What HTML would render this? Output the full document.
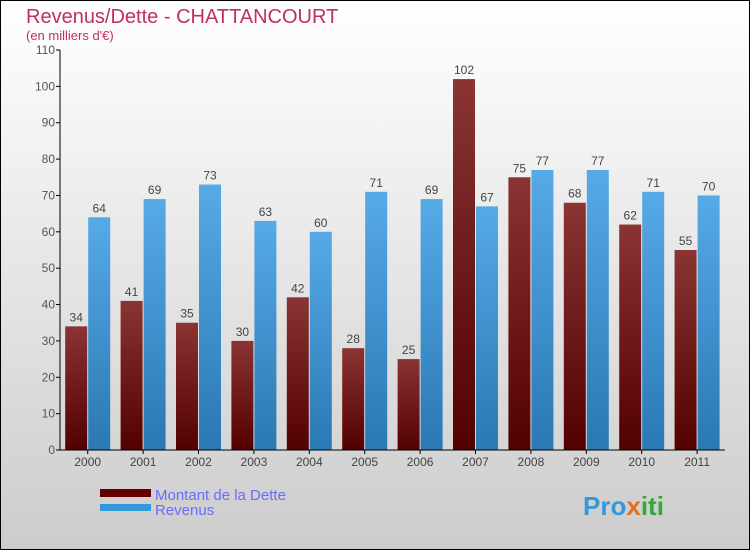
<!DOCTYPE html>
<html><head><meta charset="utf-8"><style>
body{margin:0;width:750px;height:550px;overflow:hidden}
svg{display:block;font-family:"Liberation Sans",sans-serif}
</style></head><body>
<svg id="c" width="750" height="550">
<defs>
<linearGradient id="bg" x1="0" y1="0" x2="0" y2="1"><stop offset="0" stop-color="#ffffff"/><stop offset="1" stop-color="#cccccc"/></linearGradient>
<linearGradient id="gd" x1="0" y1="0" x2="0" y2="1"><stop offset="0" stop-color="#8a3434"/><stop offset="1" stop-color="#530000"/></linearGradient>
<linearGradient id="gr" x1="0" y1="0" x2="0" y2="1"><stop offset="0" stop-color="#56aae6"/><stop offset="1" stop-color="#2a78b4"/></linearGradient>
</defs>
<rect x="0.5" y="0.5" width="749" height="549" fill="url(#bg)" stroke="#000"/>
<text x="26" y="23" font-size="20" fill="#c0305e">Revenus/Dette - CHATTANCOURT</text>
<text x="26" y="40" font-size="13" fill="#c0305e">(en milliers d'€)</text>
<g id="plot"></g>
<rect x="100" y="489" width="51" height="8" fill="#660000"/>
<text x="155" y="500" font-size="15" fill="#6a6aff">Montant de la Dette</text>
<rect x="100" y="504" width="51" height="7" fill="#3399dd"/>
<text x="155" y="515" font-size="15" fill="#6a6aff">Revenus</text>
<text x="583" y="515" font-size="26" font-weight="bold" fill="#3399dd">Pro<tspan fill="#e07020">x</tspan><tspan fill="#33aa33">iti</tspan></text>
</svg>
<script>
const years=["2000","2001","2002","2003","2004","2005","2006","2007","2008","2009","2010","2011"];
const dette=[34,41,35,30,42,28,25,102,75,68,62,55];
const revenus=[64,69,73,63,60,71,69,67,77,77,71,70];
const yTicks=[0,10,20,30,40,50,60,70,80,90,100,110];
const NS="http://www.w3.org/2000/svg";
const g=document.getElementById('plot');
const x0=60,step=55.4,y0=450,yTop=50,yMax=110;
const ys=v=>y0-(v/yMax)*(y0-yTop);
const xc=i=>x0+step*(i+0.5);
function mk(t,a){const e=document.createElementNS(NS,t);for(const k in a)e.setAttribute(k,a[k]);g.appendChild(e);return e;}
yTicks.forEach(v=>{
 const l=mk('line',{x1:x0-4,x2:x0,y1:ys(v),y2:ys(v),stroke:'#000'});
 
 
 const t=mk('text',{x:x0-5,y:ys(v)+4,'font-size':12,'text-anchor':'end',fill:'#555'});
 t.textContent=v;
 
 
});
years.forEach((y,i)=>{
 const c=xc(i);
 const bd=mk('rect',{x:c-22.5,y:ys(dette[i]),width:22,height:y0-ys(dette[i]),fill:'url(#gd)'});
 
 
 const br=mk('rect',{x:c+0.5,y:ys(revenus[i]),width:22,height:y0-ys(revenus[i]),fill:'url(#gr)'});
 
 
 const td=mk('text',{x:c-11.5,y:ys(dette[i])-5,'font-size':12,'text-anchor':'middle',fill:'#444'});
 td.textContent=dette[i];
 
 
 const tr=mk('text',{x:c+11.5,y:ys(revenus[i])-5,'font-size':12,'text-anchor':'middle',fill:'#444'});
 tr.textContent=revenus[i];
 
 
 const tk=mk('line',{x1:c,x2:c,y1:y0,y2:y0+4,stroke:'#000'});
 
 
 const xl=mk('text',{x:c,y:y0+16,'font-size':12,'text-anchor':'middle',fill:'#444'});
 xl.textContent=y;
 
 
});
const ya=mk('line',{x1:x0,x2:x0,y1:yTop,y2:y0,stroke:'#000'});


const xa=mk('line',{x1:x0,x2:x0+step*12,y1:y0,y2:y0,stroke:'#000'});


</script>
</body></html>
